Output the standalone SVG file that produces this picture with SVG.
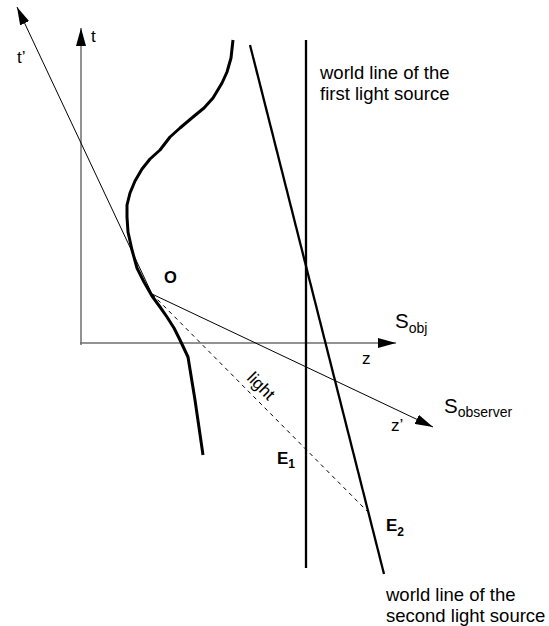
<svg xmlns="http://www.w3.org/2000/svg" width="549" height="626" viewBox="0 0 549 626">
<style>
text{font-family:"Liberation Sans",Arial,sans-serif;fill:#000}
.ax{stroke:#6e6e6e;stroke-width:1.5;fill:none}
.thin{stroke:#000;stroke-width:1;fill:none}
.wl{stroke:#000;stroke-width:2.3;fill:none}
.lbl{font-size:17px}
.big{font-size:18.5px}
.b{font-weight:bold}
</style>
<defs>
<marker id="ah" markerUnits="userSpaceOnUse" markerWidth="18" markerHeight="10" refX="18" refY="5" orient="auto">
<path d="M0,0 L18,5 L0,10 z" fill="#000"/>
</marker>
</defs>
<rect width="549" height="626" fill="#fff"/>
<g id="connectors">
<line id="t-axis" class="ax" x1="81" y1="345" x2="81" y2="28" marker-end="url(#ah)"/>
<line id="z-axis" class="ax" x1="80" y1="343" x2="396" y2="343" marker-end="url(#ah)"/>
<line id="tprime-axis" class="thin" x1="152" y1="294" x2="17" y2="7" marker-end="url(#ah)"/>
<line id="zprime-axis" class="thin" x1="152" y1="294" x2="433" y2="427" marker-end="url(#ah)"/>
<line id="light-ray" class="thin" x1="152" y1="294" x2="368" y2="512" stroke-dasharray="4,4"/>
</g>
<g id="object-worldline">
<polyline fill="none" stroke="#000" stroke-width="3" stroke-linejoin="round" stroke-linecap="butt" points="233,40 231,58 227,72 222,83 213,98 204,108 193,117 180,128 170,137 160,150 150,159 142,169 135,181 130,193 127,205 127,217 128,232 132,250 137,268 144,282 152,296 160,307 167,317 174,328 180,340 188,357 195,400 203,455"/>
</g>
<g id="first-light-source">
<line class="wl" x1="306" y1="40" x2="306" y2="568"/>
<text class="big" x="320" y="79">world line of the</text>
<text class="big" x="320" y="100">first light source</text>
</g>
<g id="second-light-source">
<line class="wl" x1="250" y1="45" x2="384" y2="574"/>
<text class="big" x="386" y="601">world line of the</text>
<text class="big" x="386" y="622">second light source</text>
</g>
<g id="labels">
<text class="lbl" x="91" y="42">t</text>
<text class="lbl" x="17" y="63">t’</text>
<text class="lbl" x="362" y="364">z</text>
<text class="lbl" x="391" y="431">z’</text>
<text x="395" y="328" font-size="20.5">S<tspan font-size="14" dy="5">obj</tspan></text>
<text x="444" y="413" font-size="20.5">S<tspan font-size="14" dy="4">observer</tspan></text>
<text class="b" x="164" y="283" font-size="16.5">O</text>
<text class="b" x="277" y="464" font-size="17">E<tspan font-size="12" dy="4">1</tspan></text>
<text class="b" x="386" y="531" font-size="17">E<tspan font-size="12" dy="5">2</tspan></text>
<text class="lbl" text-anchor="middle" transform="translate(257,390) rotate(45)">light</text>
</g>
</svg>
